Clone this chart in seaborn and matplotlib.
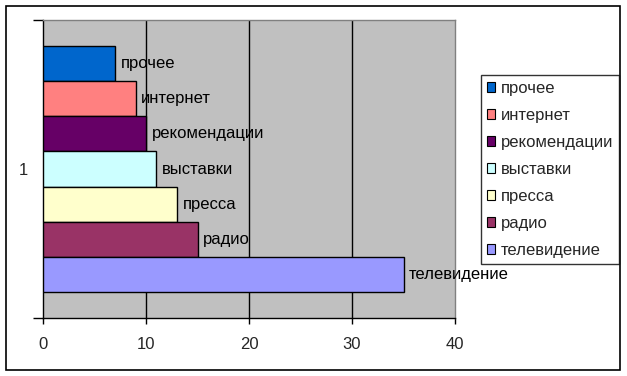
import matplotlib
matplotlib.use('Agg')
import matplotlib.pyplot as plt
import matplotlib.patches as mpatches
import seaborn as sns
import pandas as pd

categories = ['1']
series = ['телевидение', 'радио', 'пресса', 'выставки', 'рекомендации', 'интернет', 'прочее']
values = [35, 15, 13, 11, 10, 9, 7]
colors = ['#9999FF', '#993366', '#FFFFCC', '#CCFFFF', '#660066', '#FF8080', '#0066CC']
xticks = [0, 10, 20, 30, 40]

sns.set_theme(style='white')
plt.rcParams['font.family'] = ['Liberation Sans', 'DejaVu Sans']
FS = 12

fig = plt.figure(figsize=(6.27, 3.76), dpi=100)
W, H = 627, 376
ax = fig.add_axes([43 / W, 1 - 318 / H, (455 - 43) / W, (318 - 20) / H])
ax.set_facecolor('#C0C0C0')

df = pd.DataFrame({'cat': categories * len(series), 'series': series, 'value': values})
hue_order = series[::-1]
palette = dict(zip(series, colors))
sns.barplot(data=df, x='value', y='cat', hue='series', hue_order=hue_order,
            palette=palette, orient='h', width=7 / 8.5, edgecolor='black',
            linewidth=1, saturation=1, ax=ax, legend=False, zorder=3)

for cont, name in zip(ax.containers, hue_order):
    ax.bar_label(cont, labels=[name], padding=4, fontsize=FS, color='black')

ax.set_xlim(0, 40)
ax.set_ylim(0.5, -0.5)
ax.set_xticks(xticks)
ax.set_xticklabels([str(t) for t in xticks], fontsize=FS)
ax.set_yticks([0])
ax.set_yticklabels(categories, fontsize=FS)
ax.set_yticks([-0.5, 0.5], minor=True)
ax.tick_params(axis='y', which='major', length=0, pad=11)
ax.tick_params(axis='y', which='minor', length=7, width=1, color='black', direction='out', left=True)
ax.tick_params(axis='x', length=4, width=1, color='black', direction='out', pad=10, bottom=True)
ax.set_xlabel('')
ax.set_ylabel('')
ax.grid(False)
for v in xticks[1:-1]:
    ax.axvline(v, color='black', lw=1, zorder=1)
for s in ['left', 'bottom']:
    ax.spines[s].set_color('black')
    ax.spines[s].set_linewidth(1)
for s in ['top', 'right']:
    ax.spines[s].set_color('#808080')
    ax.spines[s].set_linewidth(1)

handles = [mpatches.Patch(facecolor=palette[n], edgecolor='black', linewidth=0.8) for n in hue_order]
leg = fig.legend(handles, hue_order, loc='upper left', bbox_to_anchor=(481 / W, 1 - 75 / H),
                 fontsize=FS, frameon=True, fancybox=False, edgecolor='black',
                 handlelength=0.5, handleheight=0.5, handletextpad=0.35,
                 labelspacing=0.72, borderpad=0.35, borderaxespad=0)
leg.get_frame().set_linewidth(1)

fig.patches.append(mpatches.Rectangle((6 / W, 6 / H), (620 - 6) / W, (370 - 6) / H,
                                      transform=fig.transFigure, fill=False,
                                      edgecolor='black', linewidth=1.2))

fig.savefig('out.png', dpi=100, facecolor='white')
